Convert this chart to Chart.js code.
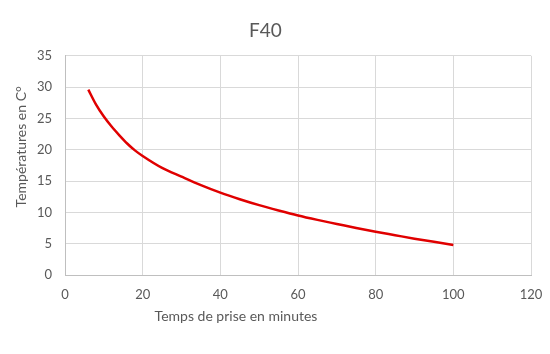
<!DOCTYPE html>
<html>
<head>
<meta charset="utf-8">
<script src="https://cdn.jsdelivr.net/npm/chart.js@4"></script>
<style>
  body { margin: 0; background: #fff; }
  #wrap { width: 550px; height: 354px; }
</style>
</head>
<body>
<div id="wrap"><canvas id="f40_chart"></canvas></div>
<script>
// temps (minutes) et températures
const minutes = [6, 8, 10, 12, 14, 16, 18, 20, 25, 30, 35, 40, 45, 50, 55, 60, 65, 70, 75, 80, 85, 90, 95, 100];
const temperatures = [29.6, 27.2, 25.3, 23.7, 22.3, 21.0, 19.9, 19.0, 17.1, 15.7, 14.35, 13.15, 12.1, 11.15, 10.3, 9.5, 8.8, 8.15, 7.5, 6.9, 6.35, 5.8, 5.3, 4.8];
const titre = 'F40';
const titreX = 'Temps de prise en minutes';
const titreY = 'Températures en C°';

const points = minutes.map((m, i) => ({ x: m, y: temperatures[i] }));
const gris = '#595959';
const police = 'Lato, "Open Sans", sans-serif';

// titres d'axes placés comme dans Excel (pas centrés sur la zone)
const axisTitles = {
  id: 'axisTitles',
  afterDraw(chart) {
    const ctx = chart.ctx;
    const area = chart.chartArea;
    ctx.save();
    ctx.fillStyle = gris;
    ctx.font = '14px ' + police;
    ctx.textAlign = 'center';
    ctx.textBaseline = 'middle';
    ctx.fillText(titreX, area.left + 171, area.bottom + 41);
    ctx.translate(21, area.top + 91);
    ctx.rotate(-Math.PI / 2);
    ctx.fillText(titreY, 0, 0);
    ctx.restore();
  }
};

const ctx_f40 = document.getElementById('f40_chart').getContext('2d');
new Chart(ctx_f40, {
  type: 'scatter',
  data: {
    datasets: [{
      label: titre,
      data: points,
      showLine: true,
      borderColor: '#e00000',
      backgroundColor: '#e00000',
      borderWidth: 2.5,
      pointRadius: 0,
      cubicInterpolationMode: 'monotone'
    }]
  },
  options: {
    responsive: true,
    maintainAspectRatio: false,
    animation: false,
    layout: { padding: { left: 0, right: 19, top: 0, bottom: 0 } },
    plugins: {
      legend: { display: false },
      tooltip: { enabled: false },
      title: {
        display: true,
        text: titre,
        color: gris,
        font: { family: police, size: 19, weight: 'normal' },
        padding: { top: 19, bottom: 14 }
      }
    },
    scales: {
      x: {
        type: 'linear',
        min: 0,
        max: 120,
        ticks: { stepSize: 20, color: gris, font: { family: police, size: 13 }, padding: 12, maxRotation: 0 },
        grid: { color: '#d9d9d9', drawTicks: false },
        border: { color: '#bfbfbf' },
        afterFit: (s) => { s.height = 79; s.paddingLeft = 0; s.paddingRight = 0; }
      },
      y: {
        min: 0,
        max: 35,
        ticks: { stepSize: 5, color: gris, font: { family: police, size: 13 }, padding: 13 },
        grid: { color: '#d9d9d9', drawTicks: false },
        border: { color: '#bfbfbf' },
        afterFit: (s) => { s.width = 65; s.paddingTop = 0; s.paddingBottom = 0; }
      }
    }
  },
  plugins: [axisTitles]
});
</script>
</body>
</html>
